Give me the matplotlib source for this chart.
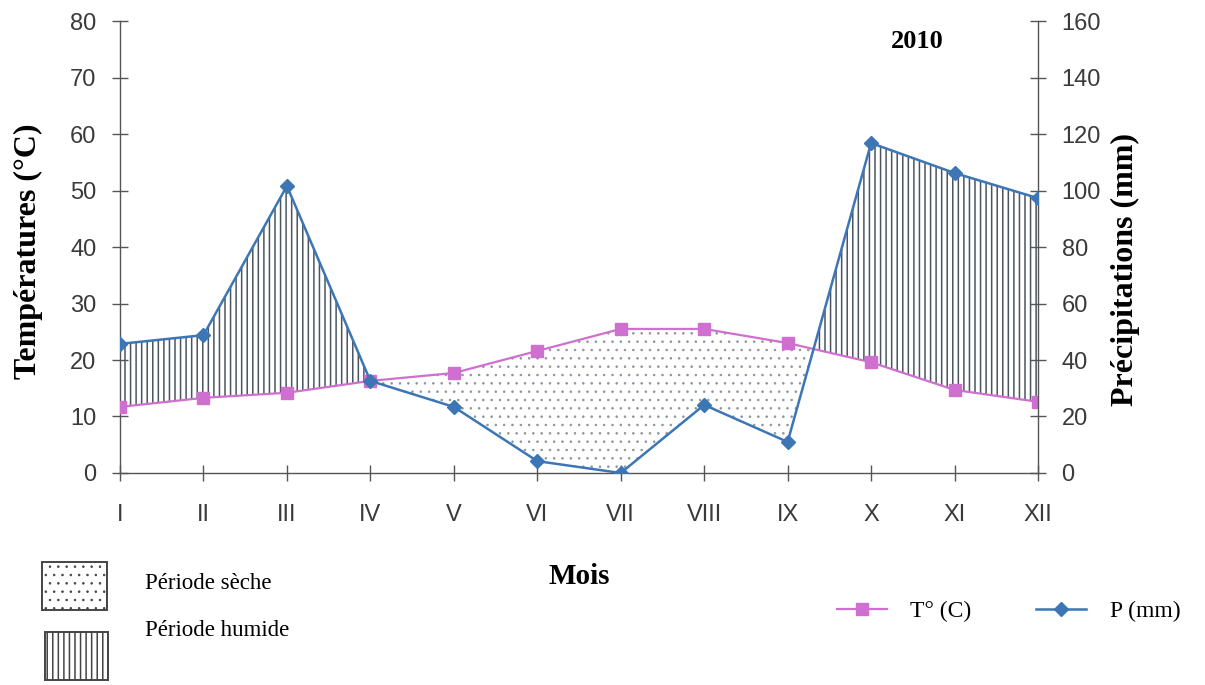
"""Diagramme ombrothermique 2010 (Gaussen, P = 2T)."""

import matplotlib
matplotlib.use("Agg")
import matplotlib.pyplot as plt
import numpy as np
from matplotlib.patches import Rectangle

months = ["I", "II", "III", "IV", "V", "VI", "VII", "VIII", "IX", "X", "XI", "XII"]
temperature = [11.7, 13.3, 14.2, 16.3, 17.7, 21.6, 25.5, 25.5, 23.0, 19.6, 14.7, 12.6]
precipitation = [45.7, 48.8, 101.6, 32.6, 23.4, 4.2, 0.0, 24.1, 11.0, 116.8, 106.2, 97.3]
temp_ticks = [0, 10, 20, 30, 40, 50, 60, 70, 80]
precip_ticks = [0, 20, 40, 60, 80, 100, 120, 140, 160]

PINK = "#cf6fcf"
BLUE = "#3c76b4"
HATCH_COL = "#4a5560"
DOT_COL = "#8c949c"
TICK_COL = "#3a3a3a"
SERIF = "Liberation Serif"
SANS = "Liberation Sans"

fig = plt.figure(figsize=(12.05, 6.85), dpi=100)
ax = fig.add_axes([0.0996, 0.3095, 0.7618, 0.6598])
ax2 = ax.twinx()

x = np.arange(len(months))
t = np.array(temperature)
p_half = np.array(precipitation) / 2.0

# périodes sèche / humide
plt.rcParams["hatch.linewidth"] = 0.6
ax.fill_between(x, t, p_half, where=p_half <= t, interpolate=True,
                facecolor="none", edgecolor=DOT_COL, linewidth=0, hatch="..", zorder=1)
plt.rcParams["hatch.linewidth"] = 1.1
ax.fill_between(x, t, p_half, where=p_half >= t, interpolate=True,
                facecolor="none", edgecolor=HATCH_COL, linewidth=0, hatch="|||", zorder=1)

l_t, = ax.plot(x, t, color=PINK, lw=1.6, marker="s", ms=9, zorder=3, label="T° (C)")
l_p, = ax2.plot(x, precipitation, color=BLUE, lw=1.8, marker="D", ms=7, zorder=3, label="P (mm)")

ax.set_xlim(0, 11)
ax.set_ylim(0, 80)
ax2.set_ylim(0, 160)
ax.set_xticks(x)
ax.set_xticklabels(months)
ax.set_yticks(temp_ticks)
ax2.set_yticks(precip_ticks)

for a in (ax, ax2):
    a.spines["top"].set_visible(False)
    for s in a.spines.values():
        s.set_color("#555555")
        s.set_linewidth(1.0)
    a.tick_params(direction="inout", length=12, width=1.0, color="#555555",
                  labelsize=17, labelcolor=TICK_COL, pad=11)
    for lab in a.get_xticklabels() + a.get_yticklabels():
        lab.set_fontfamily(SANS)
ax2.spines["left"].set_visible(False)
ax2.spines["bottom"].set_visible(False)
ax.spines["right"].set_visible(False)
ax.tick_params(axis="x", pad=16)

ax.set_ylabel("Températures (°C)", fontfamily=SERIF, fontweight="bold", fontsize=23)
ax2.set_ylabel("Précipitations (mm)", fontfamily=SERIF, fontweight="bold", fontsize=23)
ax.yaxis.set_label_coords(-0.084, 0.49)
ax2.yaxis.set_label_coords(1.079, 0.45)
ax.text(0.869, 0.955, "2010", transform=ax.transAxes, fontfamily=SERIF,
        fontweight="bold", fontsize=19, ha="center", va="center")
fig.text(0.481, 0.158, "Mois", fontfamily=SERIF, fontweight="bold", fontsize=21,
         ha="center", va="center")

# légende des périodes
plt.rcParams["hatch.linewidth"] = 0.6
fig.add_artist(Rectangle((0.035, 0.11), 0.054, 0.07, transform=fig.transFigure,
                         facecolor="white", edgecolor="#444444", lw=1.4, hatch=".."))
plt.rcParams["hatch.linewidth"] = 1.1
fig.add_artist(Rectangle((0.037, 0.008), 0.053, 0.07, transform=fig.transFigure,
                         facecolor="white", edgecolor="#444444", lw=1.4, hatch="|||"))
fig.text(0.12, 0.148, "Période sèche", fontfamily=SERIF, fontsize=16.5, ha="left", va="center")
fig.text(0.12, 0.080, "Période humide", fontfamily=SERIF, fontsize=16.5, ha="left", va="center")

leg = fig.legend(handles=[l_t, l_p], loc="center right", bbox_to_anchor=(0.997, 0.107),
                 ncol=2, frameon=False, prop={"family": SERIF, "size": 17},
                 handlelength=2.1, columnspacing=2.75, handletextpad=1.0)

fig.savefig("out.png", dpi=100)
